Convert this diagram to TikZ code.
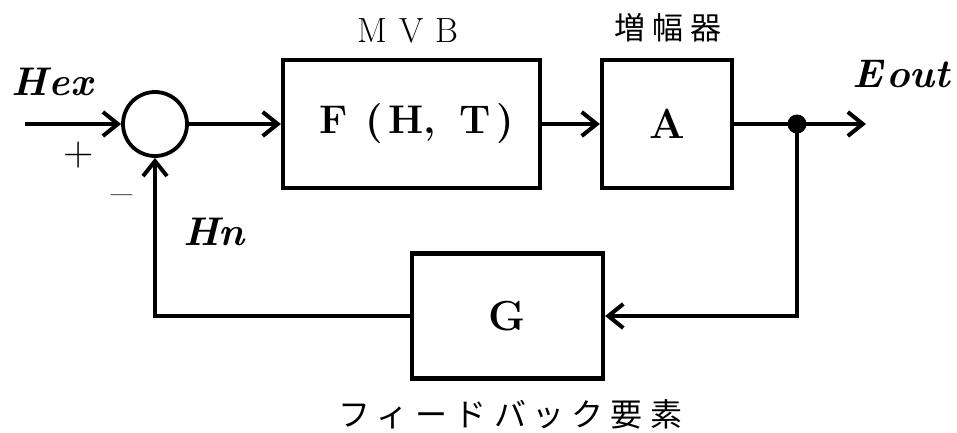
\documentclass[tikz,border=0pt]{standalone}
\usepackage{fontspec}
\newfontfamily\jp{Noto Sans CJK JP}
\usetikzlibrary{arrows.meta}
\begin{document}
\begin{tikzpicture}[x=1pt,y=-1pt,line width=4pt,
  blk/.style={draw,line width=4.2pt,inner sep=0pt,font=\fontsize{42}{44}\selectfont\bfseries},
  arr/.style={-{Straight Barb[length=15pt,width=24pt,line width=4pt]}},
  lbl/.style={inner sep=0pt},
  sig/.style={lbl,font=\fontsize{40}{44}\selectfont\bfseries\itshape}]
\useasboundingbox (0,0) rectangle (957,432);
% blocks
\node[draw,circle,minimum size=64pt,inner sep=0pt,line width=3.8pt] (sum) at (155,124) {};
\node[blk,minimum width=257pt,minimum height=128pt] (F) at (411.5,124)
  {\fontsize{40}{44}\selectfont\hspace{10pt}F\hspace{18pt}(\hspace{5pt}H,\hspace{24pt}T\hspace{5pt})};
\node[blk,minimum width=130pt,minimum height=128pt] (A) at (667,124) {A};
\node[blk,minimum width=191pt,minimum height=125pt] (G) at (507.5,316) {\raisebox{-4pt}{G}};
\node[circle,fill,inner sep=0pt,minimum size=19pt] (dot) at (797,124) {};
\coordinate (in) at (25,124);
\coordinate (outend) at (866,124);
% labels
\node[sig,anchor=base west] (hex) at (9,95) {H\hspace{2pt}ex};
\node[sig,anchor=base west] (eout) at (850,87) {E\hspace{4pt}out};
\node[sig,anchor=base west] (hn) at (181,245) {Hn};
\node[lbl,font=\fontsize{42}{44}\selectfont] (plus) at (79,155) {+};
\node[lbl,font=\fontsize{46}{48}\selectfont] (minus) at (122,201) {–};
\node[lbl,font=\fontsize{35}{38}\selectfont,anchor=base] (mvb) at (408,42) {M\hspace{12pt}V\hspace{12pt}B};
\node[lbl,font=\jp\fontsize{31}{34}\selectfont] (amp) at (668,28) {増\hspace{7pt}幅\hspace{7pt}器};
\node[lbl,font=\jp\fontsize{32}{35}\selectfont] (fb) at (510,414)
  {フ\hspace{7pt}ィ\hspace{7pt}ー\hspace{7pt}ド\hspace{7pt}バ\hspace{7pt}ッ\hspace{7pt}ク\hspace{7pt}要\hspace{7pt}素};
% connectors
\draw[arr] (in) -- (sum.west);
\draw[arr] (sum.east) -- (F.west);
\draw[arr] (F.east) -- (A.west);
\draw (A.east) -- (dot.center);
\draw[arr] (dot.center) -- (outend);
\draw[arr] (dot.center) |- (G.east);
\draw[arr] (G.west) -| (sum.south);
\end{tikzpicture}
\end{document}
